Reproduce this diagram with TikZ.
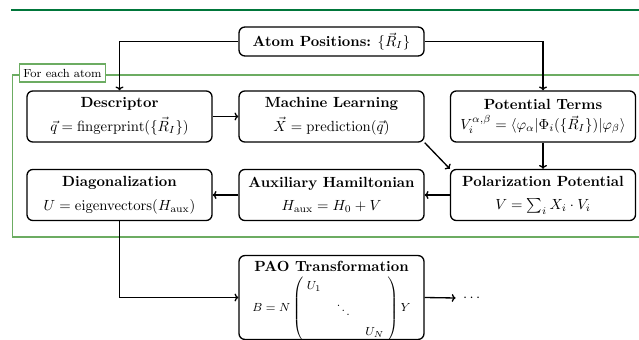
\documentclass[tikz,border=0pt]{standalone}
\usepackage{amsmath}
\usetikzlibrary{arrows.meta}
\definecolor{rulegreen}{RGB}{0,118,58}
\definecolor{framegreen}{RGB}{108,172,98}
\begin{document}
\begin{tikzpicture}[x=0.68pt,y=-0.68pt,
  stepbox/.style={draw, line width=0.9pt, rounded corners=4pt, fill=white,
    align=center, minimum width=125.8pt, minimum height=34.7pt, inner sep=2pt},
  flow/.style={line width=0.9pt, -{To[length=2.6pt,width=5.4pt]}},
  looplabel/.style={draw=framegreen, line width=0.8pt, fill=white,
    font=\footnotesize, minimum width=59pt, minimum height=12.2pt, inner sep=2pt}
]
\useasboundingbox (0,0) rectangle (639,340);

% header rule
\draw[rulegreen, line width=1.4pt] (11,10) -- (639,10);

% per-atom loop frame, open to the right
\draw[framegreen, line width=0.8pt] (639,75) -- (12.5,75) -- (12.5,237) -- (639,237);
\node[looplabel] (loop) at (62.5,73) {For each atom};

% nodes
\node[stepbox, minimum height=19.7pt] (atom) at (331.5,41.5)
  {\textbf{Atom Positions:} $\{\vec{R}_I\}$};

\node[stepbox] (desc) at (119.5,116.5)
  {\textbf{Descriptor}\\[4pt] $\vec{q} = \mathrm{fingerprint}(\{\vec{R}_I\})$};
\node[stepbox] (ml) at (331.5,116.5)
  {\textbf{Machine Learning}\\[4pt] $\vec{X} = \mathrm{prediction}(\vec{q})$};
\node[stepbox] (pot) at (543,116.5)
  {\textbf{Potential Terms}\\[2pt] $V_i^{\alpha,\beta} = \langle\varphi_\alpha|\Phi_i(\{\vec{R}_I\})|\varphi_\beta\rangle$};

\node[stepbox] (diag) at (119.5,195)
  {\textbf{Diagonalization}\\[4pt] $U = \mathrm{eigenvectors}(H_{\mathrm{aux}})$};
\node[stepbox] (aux) at (331.5,195)
  {\textbf{Auxiliary Hamiltonian}\\[4pt] $H_{\mathrm{aux}} = H_0 + V$};
\node[stepbox] (pol) at (543,195)
  {\textbf{Polarization Potential}\\[4pt] $V = \sum_i X_i \cdot V_i$};

% PAO box: frame, title and block-diagonal formula
\node[stepbox, minimum height=57pt] (pao) at (331.5,297.5) {};
\node[font=\bfseries, inner sep=0pt] (paotitle) at (331.5,266) {PAO Transformation};
\node[font=\footnotesize, inner sep=0pt] (paoformula) at (331.5,309)
  {$\renewcommand{\arraystretch}{1.35}B = N\left(\;\begin{matrix} U_1 & & \\ & \ddots & \\ & & U_N\end{matrix}\;\right)Y$};

\node[inner sep=5pt] (dots) at (473,298) {$\cdots$};

% connectors
\draw[flow] (atom.west) -| (desc.north);
\draw[flow] (atom.east) -| (pot.north);
\draw[flow] (desc) -- (ml);
\draw[flow] (ml.south east) -- (pol.north west);
\draw[flow] (pot) -- (pol);
\draw[flow] (pol) -- (aux);
\draw[flow] (aux) -- (diag);
\draw[flow] (diag.south) |- (pao.west);
\draw[flow] (pao.east) -- (dots.west);
\end{tikzpicture}
\end{document}
